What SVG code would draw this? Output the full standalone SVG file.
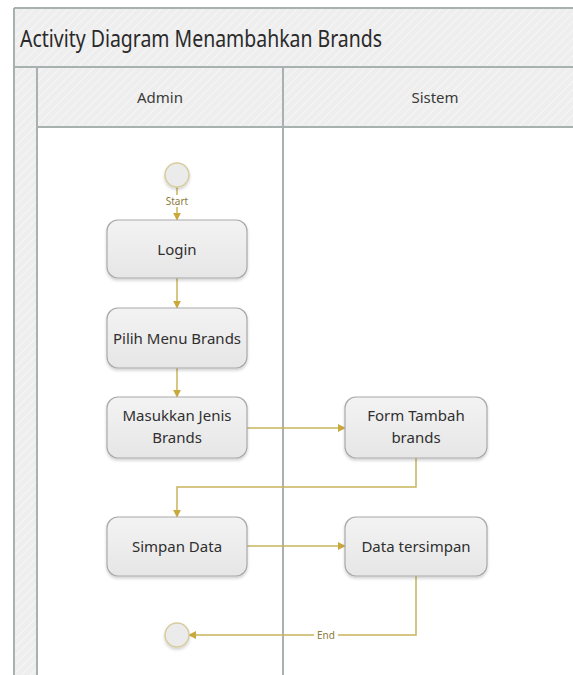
<svg xmlns="http://www.w3.org/2000/svg" width="573" height="675" viewBox="0 0 573 675">
  <style>
    .frame { fill: #efefef; }
    .hdr { font-family: "Noto Sans", "Open Sans", sans-serif; font-size: 15px; fill: #3a3a3a; text-anchor: middle; }
    .title { font-family: "Noto Sans", "Open Sans", sans-serif; font-size: 23px; fill: #2a2a2a; }
    .node rect { fill: url(#nodeGrad); stroke: #a9a9a9; stroke-width: 1.2; filter: url(#shadow); }
    .node text { font-family: "Noto Sans", "Open Sans", sans-serif; font-size: 15px; fill: #2f2f2f; text-anchor: middle; }
    .term { fill: #ebebeb; stroke: #d6cc9e; stroke-width: 1.5; filter: url(#shadow); }
    .conn { fill: none; stroke: #c9b45c; stroke-width: 1.5; }
    .lbl { font-family: "Noto Sans", "Open Sans", sans-serif; font-size: 10px; fill: #8a7a3a; text-anchor: middle; }
    .sep { stroke: #a9b0b0; stroke-width: 2; }
  </style>
  <defs>
    <linearGradient id="nodeGrad" x1="0" y1="0" x2="0" y2="1">
      <stop offset="0" stop-color="#f3f3f3"/>
      <stop offset="1" stop-color="#e6e6e6"/>
    </linearGradient>
    <pattern id="hatch" width="6" height="6" patternUnits="userSpaceOnUse" patternTransform="rotate(45)">
      <rect width="6" height="6" fill="#eeeeee"/>
      <line x1="0" y1="0" x2="0" y2="6" stroke="#f6f6f6" stroke-width="2"/>
    </pattern>
    <filter id="shadow" x="-20%" y="-20%" width="140%" height="150%">
      <feDropShadow dx="0" dy="2" stdDeviation="1.5" flood-color="#000" flood-opacity="0.18"/>
    </filter>
    <marker id="arrow" viewBox="0 0 10 10" refX="9" refY="5" markerWidth="8" markerHeight="8" markerUnits="userSpaceOnUse" orient="auto">
      <path d="M0,0 L10,5 L0,10 z" fill="#c9a93c"/>
    </marker>
  </defs>

  <rect width="573" height="675" fill="#ffffff"/>

  <g id="swimlanes">
    <rect x="14" y="8" width="600" height="700" fill="url(#hatch)"/>
    <rect x="37" y="127" width="600" height="600" fill="#ffffff"/>
    <line x1="14" y1="8" x2="573" y2="8" class="sep" stroke-width="1.5"/>
    <line x1="14" y1="8" x2="14" y2="675" class="sep"/>
    <line x1="14" y1="67" x2="573" y2="67" class="sep"/>
    <line x1="37" y1="67" x2="37" y2="675" class="sep"/>
    <line x1="37" y1="127" x2="573" y2="127" class="sep"/>
    <line x1="283" y1="67" x2="283" y2="675" class="sep"/>
    <text x="20" y="47" class="title" textLength="362" lengthAdjust="spacingAndGlyphs">Activity Diagram Menambahkan Brands</text>
    <text x="160" y="103" class="hdr">Admin</text>
    <text x="435" y="103" class="hdr">Sistem</text>
  </g>

  <g id="connectors">
    <line x1="177" y1="187" x2="177" y2="220" class="conn" marker-end="url(#arrow)"/>
    <rect x="163" y="195" width="28" height="12" fill="#ffffff"/>
    <text x="177" y="205" class="lbl">Start</text>
    <line x1="177" y1="278" x2="177" y2="308" class="conn" marker-end="url(#arrow)"/>
    <line x1="177" y1="368" x2="177" y2="397" class="conn" marker-end="url(#arrow)"/>
    <line x1="247" y1="428" x2="345" y2="428" class="conn" marker-end="url(#arrow)"/>
    <polyline points="416,458 416,487 177,487 177,517" class="conn" marker-end="url(#arrow)"/>
    <line x1="247" y1="546" x2="345" y2="546" class="conn" marker-end="url(#arrow)"/>
    <polyline points="416,576 416,635 189,635" class="conn" marker-end="url(#arrow)"/>
    <rect x="314" y="629" width="24" height="12" fill="#ffffff"/>
    <text x="326" y="639" class="lbl">End</text>
  </g>

  <g id="start" class="node">
    <circle cx="177" cy="175" r="12" class="term"/>
  </g>
  <g id="login" class="node">
    <rect x="107" y="220" width="140" height="58" rx="11"/>
    <text x="177" y="255">Login</text>
  </g>
  <g id="pilih-menu" class="node">
    <rect x="107" y="308" width="140" height="60" rx="11"/>
    <text x="177" y="344">Pilih Menu Brands</text>
  </g>
  <g id="masukkan-jenis" class="node">
    <rect x="107" y="397" width="140" height="61" rx="11"/>
    <text x="177" y="421">Masukkan Jenis</text>
    <text x="177" y="443">Brands</text>
  </g>
  <g id="form-tambah" class="node">
    <rect x="345" y="397" width="142" height="61" rx="11"/>
    <text x="416" y="421">Form Tambah</text>
    <text x="416" y="443">brands</text>
  </g>
  <g id="simpan-data" class="node">
    <rect x="107" y="517" width="140" height="59" rx="11"/>
    <text x="177" y="552">Simpan Data</text>
  </g>
  <g id="data-tersimpan" class="node">
    <rect x="345" y="517" width="142" height="59" rx="11"/>
    <text x="416" y="552">Data tersimpan</text>
  </g>
  <g id="end" class="node">
    <circle cx="177" cy="635" r="12" class="term"/>
  </g>
</svg>
